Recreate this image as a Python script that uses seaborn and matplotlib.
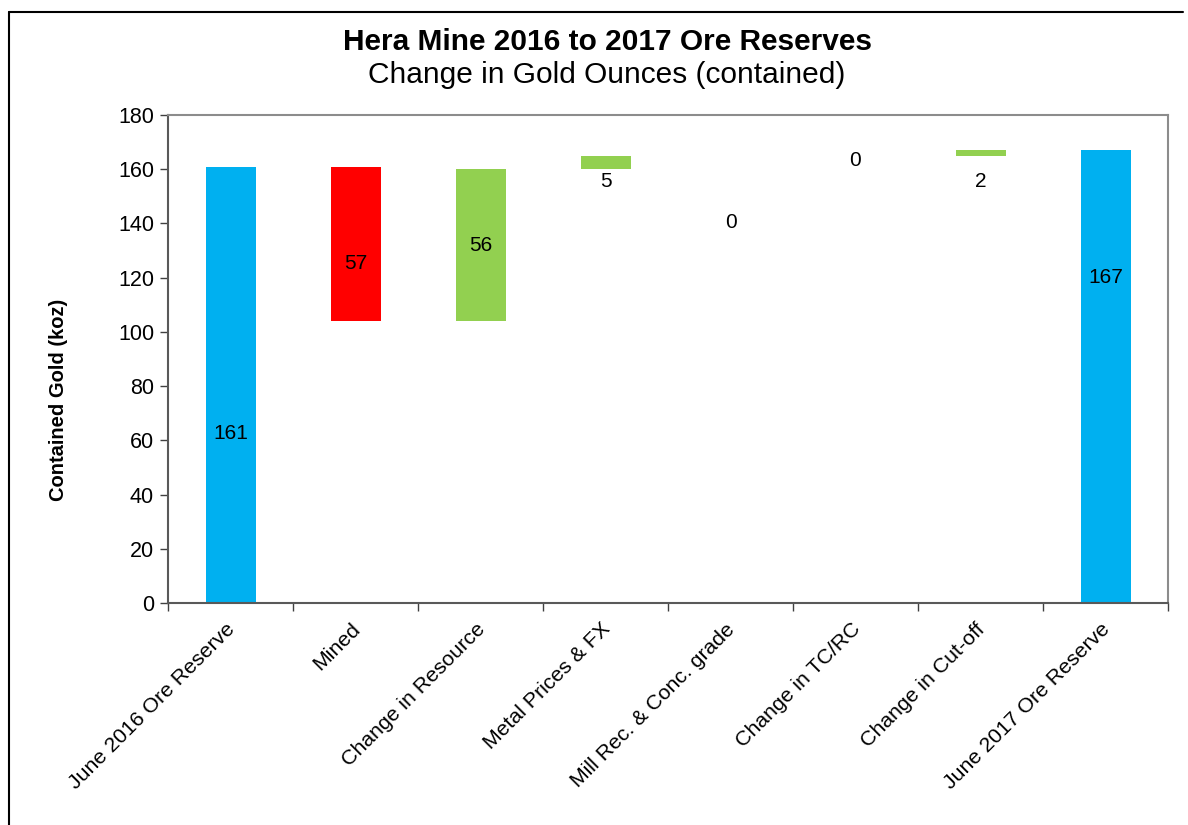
import matplotlib
matplotlib.use("Agg")
import matplotlib.pyplot as plt
from matplotlib.lines import Line2D
from matplotlib.ticker import FixedLocator
import matplotlib.transforms as mtransforms
import numpy as np
import pandas as pd
import seaborn as sns

categories = ["June 2016 Ore Reserve", "Mined", "Change in Resource", "Metal Prices & FX",
              "Mill Rec. & Conc. grade", "Change in TC/RC", "Change in Cut-off", "June 2017 Ore Reserve"]
changes = [161, -57, 56, 5, 0, 0, 2, 167]
kinds = ["total", "decrease", "increase", "increase", "increase", "increase", "increase", "total"]
value_labels = ["161", "57", "56", "5", "0", "0", "2", "167"]
label_y = [62.7, 125.4, 132.0, 155.3, 140.5, 163.4, 155.3, 119.9]

# waterfall geometry derived from the changes
base, top = [], []
running = 0
for c, k in zip(changes, kinds):
    if k == "total":
        base.append(0); top.append(c); running = c
    else:
        new = running + c
        base.append(min(running, new)); top.append(max(running, new)); running = new

df = pd.DataFrame({"category": categories, "top": top, "base": base, "kind": kinds})

sns.set_theme(style="white")
plt.rcParams["font.family"] = ["Liberation Sans", "DejaVu Sans"]
plt.rcParams["text.color"] = "black"
plt.rcParams["axes.labelcolor"] = "black"
plt.rcParams["xtick.color"] = "black"
plt.rcParams["ytick.color"] = "black"

fig = plt.figure(figsize=(11.88, 8.25), dpi=100)
ax = fig.add_axes([168/1188, 1 - 603/825, 1000/1188, 488/825])

palette = {"total": "#00B0F0", "decrease": "#FF0000", "increase": "#92D050"}
sns.barplot(data=df, x="category", y="top", hue="kind", palette=palette, dodge=False,
            width=0.4, saturation=1, legend=False, ax=ax, linewidth=0)
sns.barplot(data=df, x="category", y="base", color="white", width=0.42, saturation=1,
            ax=ax, linewidth=0)

for i, (lab, yy) in enumerate(zip(value_labels, label_y)):
    ax.text(i, yy, lab, ha="center", va="center", fontsize=15, color="black")

ax.set_xlim(-0.5, len(categories) - 0.5)
ax.set_ylim(0, 180)
ax.set_yticks(np.arange(0, 181, 20))
ax.tick_params(axis="y", which="major", direction="out", length=6, width=1, color="#404040",
               labelsize=15.5, pad=4, left=True, labelcolor="black")
ax.xaxis.set_minor_locator(FixedLocator(np.arange(-0.5, len(categories), 1)))
ax.tick_params(axis="x", which="major", length=0, labelsize=15.3, pad=12, labelcolor="black")
ax.tick_params(axis="x", which="minor", direction="out", length=6, width=1, color="#404040", bottom=True)
ax.set_xticks(range(len(categories)))
ax.set_xticklabels(categories, rotation=45, ha="right", rotation_mode="anchor")
offset = mtransforms.ScaledTranslation(-5/100, 0, fig.dpi_scale_trans)
for lbl in ax.get_xticklabels():
    lbl.set_transform(lbl.get_transform() + offset)
ax.set_xlabel("")
ax.set_ylabel("Contained Gold (koz)", fontsize=14.5, fontweight="bold", color="black")
ax.yaxis.set_label_coords(-0.10, 0.416)

for s in ["left", "bottom"]:
    ax.spines[s].set_color("#595959"); ax.spines[s].set_linewidth(1.5)
for s in ["top", "right"]:
    ax.spines[s].set_color("#8c8c8c"); ax.spines[s].set_linewidth(1.5)
    ax.spines[s].set_visible(True)

fig.text(0.511, 1 - 42/825, "Hera Mine 2016 to 2017 Ore Reserves", ha="center", va="center",
         fontsize=21.5, fontweight="bold", color="black")
fig.text(0.511, 1 - 75/825, "Change in Gold Ounces (contained)", ha="center", va="center",
         fontsize=21.5, color="black")

# outer frame (top and left edges)
fig.add_artist(Line2D([9/1188, 1183/1188], [1 - 12/825, 1 - 12/825], color="black", lw=1.5,
                      transform=fig.transFigure))
fig.add_artist(Line2D([9/1188, 9/1188], [1 - 12/825, 0], color="black", lw=1.5,
                      transform=fig.transFigure))

fig.savefig("out.png", dpi=100)
